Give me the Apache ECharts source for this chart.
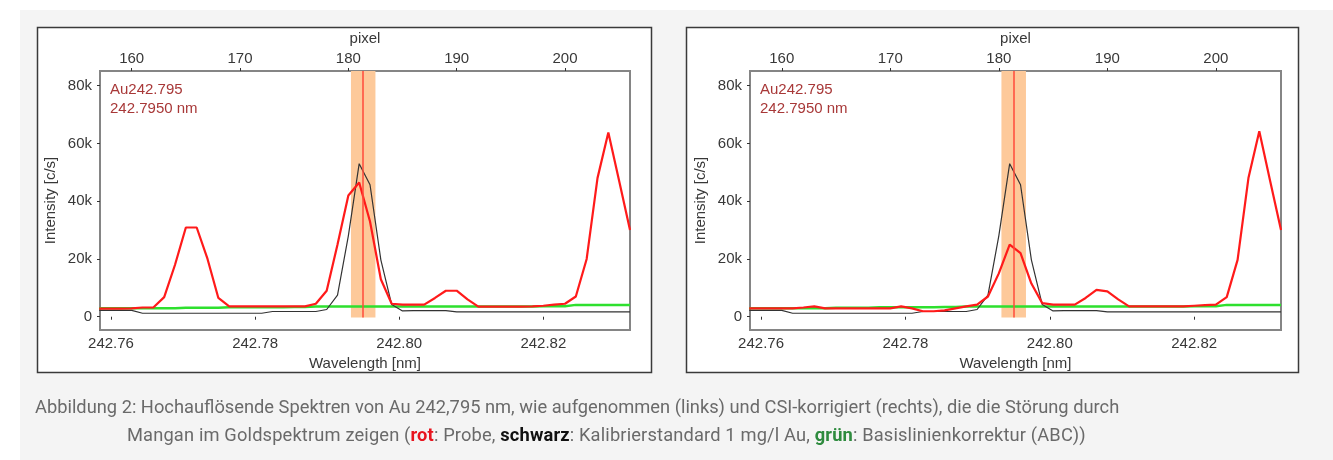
<!DOCTYPE html>
<html>
<head>
<meta charset="utf-8">
<script src="https://cdn.jsdelivr.net/npm/echarts@6/dist/echarts.min.js"></script>
<style>
  html, body { margin: 0; padding: 0; background: #ffffff; }
  #frame { position: absolute; left: 20px; top: 10px; width: 1313px; height: 450px; background: #f4f4f4; }
  #chart { position: absolute; left: 0; top: 0; width: 1333px; height: 460px; }
  .cap { position: absolute; font-family: Roboto, "Noto Sans", sans-serif; font-size: 18.3px; color: #6a6a6a; white-space: nowrap; line-height: 20px; }
  .cap b { font-weight: 700; }
</style>
</head>
<body>
<div id="frame"></div>
<div id="chart"></div>
<div class="cap" style="left:35px; top:397px;">Abbildung 2: Hochauflösende Spektren von Au 242,795 nm, wie aufgenommen (links) und CSI-korrigiert (rechts), die die Störung durch</div>
<div class="cap" style="left:127px; top:425px; letter-spacing:0.15px;">Mangan im Goldspektrum zeigen (<b style="color:#e8141e">rot</b>: Probe, <b style="color:#111">schwarz</b>: Kalibrierstandard 1 mg/l Au, <b style="color:#2e8b3e">grün</b>: Basislinienkorrektur (ABC))</div>
<script>
// Detector pixel positions (top axis)
const pixels = [157,158,159,160,161,162,163,164,165,166,167,168,169,170,171,172,173,174,175,176,177,178,179,180,181,182,183,184,185,186,187,188,189,190,191,192,193,194,195,196,197,198,199,200,201,202,203,204,205,206];

// Intensity [c/s] — sample as measured (left panel), red
const redRaw = [2800,2800,2800,2900,3200,3200,6800,18000,30900,30900,20000,6500,3600,3600,3600,3600,3600,3600,3600,3600,4500,9000,25000,42000,46500,33000,13000,4500,4200,4200,4200,6500,9000,9000,6000,3500,3500,3500,3500,3500,3600,3800,4200,4500,7000,20000,48000,63800,47000,30000];

// Intensity [c/s] — sample CSI-corrected (right panel), red
const redCorr = [2900,2900,2900,2900,2900,3200,3600,2900,2900,2900,2900,2900,2900,2900,3600,2900,1900,1900,2200,2900,3600,4200,7000,15000,25000,22000,11500,4700,4200,4200,4200,6500,9300,8800,6000,3600,3600,3600,3600,3600,3600,3800,4000,4200,6800,19700,48000,64200,47000,30000];

// Intensity [c/s] — calibration standard 1 mg/l Au, black
const blackStd = [2200,2200,2200,2200,1200,1200,1200,1200,1200,1200,1200,1200,1200,1200,1200,1200,1800,1800,1800,1800,1800,2500,7500,28000,53000,45700,19700,4200,2000,2100,2100,2100,2100,1700,1700,1700,1700,1700,1700,1700,1700,1700,1700,1700,1700,1700,1700,1700,1700,1700];

// Intensity [c/s] — baseline correction (ABC), green
const greenABC = [2900,2900,2900,2900,2900,2900,2900,2900,3100,3100,3100,3100,3300,3300,3300,3300,3300,3300,3400,3400,3500,3500,3500,3500,3500,3500,3500,3500,3500,3500,3500,3500,3500,3500,3500,3500,3500,3500,3500,3500,3500,3600,3600,3600,4100,4100,4100,4100,4100,4100];

// Axis tick labels
const wlTicks = [242.76, 242.78, 242.80, 242.82];
const pxTicks = [160, 170, 180, 190, 200];
const yTicks = [0, 20000, 40000, 60000, 80000];

// Analytical line and integration window (nm)
const lineName = 'Au242.795';
const lineWl = 242.795;
const windowWl = [242.7933, 242.7967];

const FONT = '"Liberation Sans", Arial, sans-serif';
const TXT = '#383838';

function pairs(xs, ys) { return xs.map((x, i) => [x, ys[i]]); }

function panel(gi) {
  const xs = [
    { gridIndex: gi, type: 'value', position: 'bottom', min: 242.75847, max: 242.83203,
      name: 'Wavelength [nm]', nameLocation: 'middle', nameGap: 25,
      nameTextStyle: { fontFamily: FONT, fontSize: 15, color: TXT },
      axisLine: { show: false }, splitLine: { show: false },
      axisTick: { show: true, length: 3, customValues: wlTicks, lineStyle: { color: '#333' } },
      axisLabel: { customValues: wlTicks, margin: 6, fontFamily: FONT, fontSize: 15, color: TXT, formatter: v => v.toFixed(2) } },
    { gridIndex: gi, type: 'value', position: 'top', min: 157.074, max: 206.0,
      name: 'pixel', nameLocation: 'middle', nameGap: 24,
      nameTextStyle: { fontFamily: FONT, fontSize: 15, color: TXT },
      axisLine: { show: false }, splitLine: { show: false },
      axisTick: { show: true, length: 3, customValues: pxTicks, lineStyle: { color: '#333' } },
      axisLabel: { customValues: pxTicks, margin: 5, fontFamily: FONT, fontSize: 15, color: TXT } }
  ];
  const y = { gridIndex: gi, type: 'value', min: -4600, max: 85100,
      name: 'Intensity [c/s]', nameLocation: 'middle', nameGap: 42, nameRotate: 90,
      nameTextStyle: { fontFamily: FONT, fontSize: 15, color: TXT },
      axisLine: { show: false }, splitLine: { show: false },
      axisTick: { show: true, length: 3, customValues: yTicks, lineStyle: { color: '#333' } },
      axisLabel: { customValues: yTicks, margin: 8, fontFamily: FONT, fontSize: 15, color: TXT,
                   formatter: v => v === 0 ? '0' : (v / 1000) + 'k' } };
  return { xs, y };
}

const p0 = panel(0), p1 = panel(1);

function seriesFor(gi, red) {
  const xw = gi * 2, xp = gi * 2 + 1;
  return [
    { type: 'line', xAxisIndex: xw, yAxisIndex: gi, data: [], silent: true,
      markArea: { silent: true, itemStyle: { color: '#fdc99a' },
        data: [[{ coord: [windowWl[0], -300] }, { coord: [windowWl[1], 85100] }]] },
      markLine: { silent: true, symbol: 'none', label: { show: false },
        lineStyle: { color: '#ff4a3a', width: 1.5, type: 'solid' },
        data: [[{ coord: [lineWl, -300] }, { coord: [lineWl, 85100] }]] } },
    { type: 'line', xAxisIndex: xp, yAxisIndex: gi, data: pairs(pixels, greenABC), showSymbol: false,
      lineStyle: { color: '#2ee02e', width: 2.5 }, animation: false },
    { type: 'line', xAxisIndex: xp, yAxisIndex: gi, data: pairs(pixels, blackStd), showSymbol: false,
      lineStyle: { color: '#333333', width: 1.2 }, animation: false },
    { type: 'line', xAxisIndex: xp, yAxisIndex: gi, data: pairs(pixels, red), showSymbol: false,
      lineStyle: { color: '#ff1a1a', width: 2.2 }, animation: false }
  ];
}

const chart = echarts.init(document.getElementById('chart'), null, { renderer: 'canvas' });
chart.setOption({
  animation: false,
  backgroundColor: 'transparent',
  grid: [
    { left: 100, top: 71, width: 530, height: 259, show: true, borderColor: '#858585', borderWidth: 2, backgroundColor: '#fff' },
    { left: 750, top: 71, width: 531, height: 259, show: true, borderColor: '#858585', borderWidth: 2, backgroundColor: '#fff' }
  ],
  xAxis: [...p0.xs, ...p1.xs],
  yAxis: [p0.y, p1.y],
  graphic: [
    { type: 'rect', z: -10, shape: { x: 37.5, y: 27.5, width: 614, height: 345 }, style: { fill: '#fff', stroke: '#3a3a3a', lineWidth: 1.5 } },
    { type: 'rect', z: -10, shape: { x: 686.5, y: 27.5, width: 612, height: 345 }, style: { fill: '#fff', stroke: '#3a3a3a', lineWidth: 1.5 } },
    { type: 'text', z: 10, x: 110, y: 81, style: { text: lineName + '\n' + lineWl.toFixed(4) + ' nm', fontFamily: FONT, fontSize: 15, lineHeight: 18.5, fill: '#a83838' } },
    { type: 'text', z: 10, x: 760, y: 81, style: { text: lineName + '\n' + lineWl.toFixed(4) + ' nm', fontFamily: FONT, fontSize: 15, lineHeight: 18.5, fill: '#a83838' } }
  ],
  series: [...seriesFor(0, redRaw), ...seriesFor(1, redCorr)]
});
</script>
</body>
</html>
